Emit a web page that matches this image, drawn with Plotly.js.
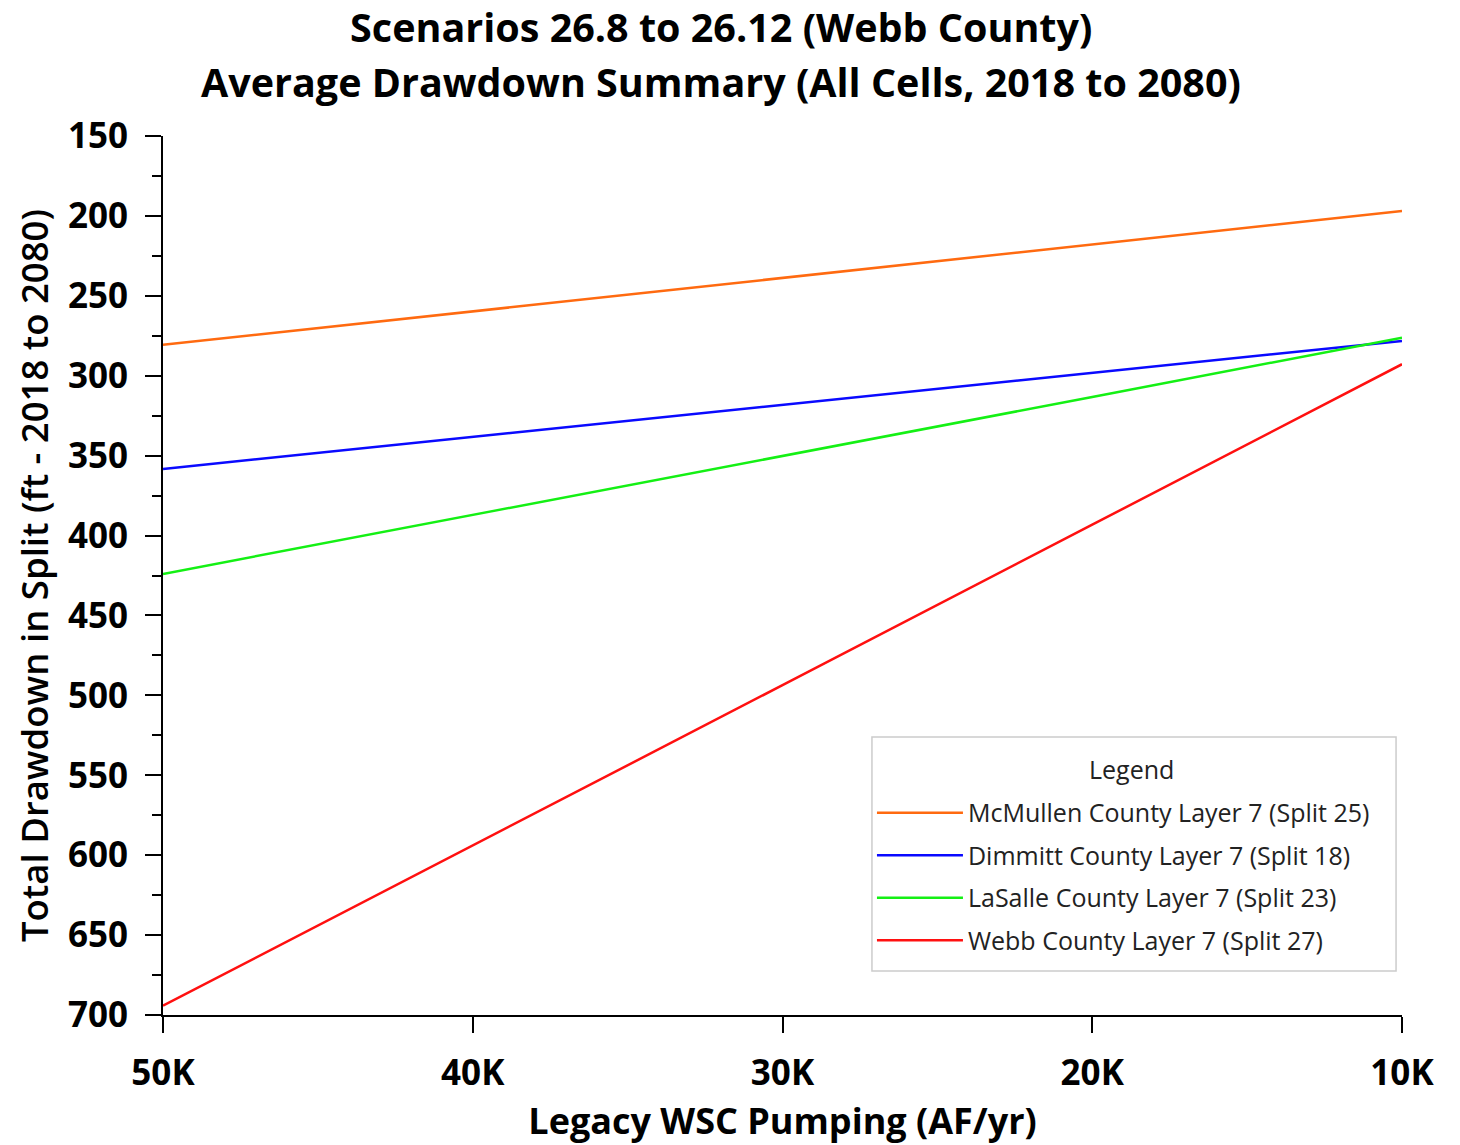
<!DOCTYPE html>
<html>
<head>
<meta charset="utf-8">
<script src="https://cdn.plot.ly/plotly-3.0.1.min.js"></script>
<style>html,body{margin:0;padding:0;background:#fff;}#chart{width:1460px;height:1145px;}</style>
</head>
<body>
<div id="chart"></div>
<script>
// Data
const pumping = [50000, 40000, 30000, 20000, 10000];
const xTickLabels = ['50K', '40K', '30K', '20K', '10K'];
const seriesNames = [
  'McMullen County Layer 7 (Split 25)',
  'Dimmitt County Layer 7 (Split 18)',
  'LaSalle County Layer 7 (Split 23)',
  'Webb County Layer 7 (Split 27)'
];
const mcmullen = [280.7, 259.8, 238.9, 217.9, 196.9];
const dimmitt  = [358.3, 338.3, 318.3, 298.2, 278.2];
const lasalle  = [424.0, 387.2, 350.2, 313.3, 276.2];
const webb     = [694.2, 594.1, 493.6, 393.2, 292.8];
const colors = ['#ff6a10', '#0a0aff', '#14f014', '#ff1010'];
const titleLine1 = 'Scenarios 26.8 to 26.12 (Webb County)';
const titleLine2 = 'Average Drawdown Summary (All Cells, 2018 to 2080)';

const seriesValues = [mcmullen, dimmitt, lasalle, webb];
const traces = seriesValues.map((vals, i) => ({
  x: pumping, y: vals, type: 'scatter', mode: 'lines',
  name: seriesNames[i], legendgroup: 'g' + i,
  line: {color: colors[i], width: 2.5}
}));

const fam = '"Open Sans", "Noto Sans", sans-serif';
const titleFont = {family: fam, size: 39.5, color: '#000', weight: 700};
const layout = {
  width: 1460, height: 1145,
  margin: {l: 163, r: 58, t: 136, b: 130},
  paper_bgcolor: '#fff', plot_bgcolor: '#fff',
  showlegend: true,
  title: {
    text: titleLine1,
    font: titleFont,
    x: 0.494, xref: 'container', xanchor: 'center',
    y: 1 - 28 / 1145, yref: 'container', yanchor: 'middle'
  },
  xaxis: {
    range: [50000, 10000], autorange: false,
    tickvals: pumping, ticktext: xTickLabels,
    showgrid: false, zeroline: false,
    showline: true, linecolor: '#000', linewidth: 2,
    ticks: 'outside', ticklen: 16, tickwidth: 2, tickcolor: '#000',
    ticklabelstandoff: 10,
    tickfont: {family: fam, size: 35, color: '#000', weight: 700},
    title: {text: 'Legacy WSC Pumping (AF/yr)', standoff: 15,
            font: {family: fam, size: 36, color: '#000', weight: 700}}
  },
  yaxis: {
    range: [700, 150], autorange: false,
    tick0: 150, dtick: 50,
    showgrid: false, zeroline: false,
    showline: true, linecolor: '#000', linewidth: 2,
    ticks: 'outside', ticklen: 16, tickwidth: 2, tickcolor: '#000',
    ticklabelstandoff: 10,
    minor: {dtick: 25, tick0: 175, ticks: 'outside', ticklen: 9, tickwidth: 2, tickcolor: '#000', showgrid: false},
    tickfont: {family: fam, size: 35, color: '#000', weight: 700},
    title: {text: 'Total Drawdown in Split (ft - 2018 to 2080)', standoff: 8,
            font: {family: fam, size: 36.5, color: '#000', weight: 600}}
  },
  // Legend frame and heading (decoration only)
  shapes: [{
    type: 'rect', xref: 'paper', yref: 'paper',
    x0: 0.5722, x1: 0.9952, y0: 0.050, y1: 0.3163,
    line: {color: '#cccccc', width: 1.5}, fillcolor: '#ffffff', layer: 'above'
  }],
  annotations: [{
    text: titleLine2, xref: 'paper', yref: 'paper',
    x: 0.4504, y: (1015 - 82) / 879, xanchor: 'center', yanchor: 'middle', showarrow: false,
    font: titleFont
  }, {
    text: 'Legend', xref: 'paper', yref: 'paper',
    x: 0.782, y: 0.280, xanchor: 'center', yanchor: 'middle', showarrow: false,
    font: {family: fam, size: 25, color: '#222'}
  }],
  legend: {
    x: 0.5722, xanchor: 'left', y: 0.256, yanchor: 'top',
    bgcolor: 'rgba(0,0,0,0)', borderwidth: 0,
    font: {family: fam, size: 25, color: '#222'},
    itemwidth: 86,
    tracegroupgap: 7
  }
};

Plotly.newPlot('chart', traces, layout, {staticPlot: true, displayModeBar: false});
</script>
</body>
</html>
